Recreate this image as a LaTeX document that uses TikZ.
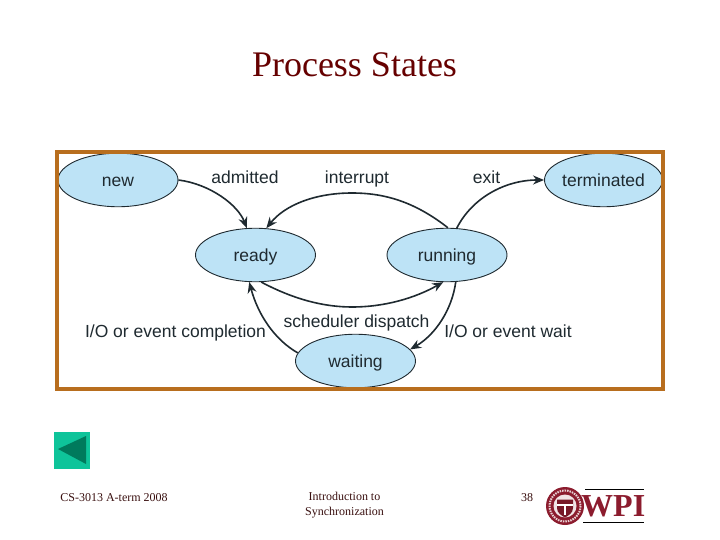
\documentclass[tikz,border=0pt]{standalone}
\usepackage{fontspec}
\setmainfont{Liberation Serif}
\newfontfamily\arialf{Liberation Sans}
\usetikzlibrary{shapes.geometric,arrows.meta}
\definecolor{framec}{HTML}{B86E1E}
\definecolor{statec}{HTML}{BDE3F6}
\definecolor{inkc}{HTML}{1F2A30}
\definecolor{titlec}{HTML}{660000}
\definecolor{footc}{HTML}{3A1010}
\definecolor{btnc}{HTML}{0EC49A}
\definecolor{btnd}{HTML}{007A5C}
\definecolor{wpic}{HTML}{8C1C2E}
\tikzset{
  state/.style={ellipse,draw=inkc,line width=0.9pt,fill=statec,inner sep=0pt,
    minimum width=#1,minimum height=53.5pt,text=inkc,text height=13pt,text depth=0.5pt,font=\arialf\fontsize{17.5}{17.5}\selectfont},
  state/.default=120pt,
  lbl/.style={inner sep=0pt,text=inkc,text height=13pt,text depth=0.5pt,font=\arialf\fontsize{17.5}{17.5}\selectfont},
  conn/.style={line width=1.6pt,draw=inkc,-{Stealth[length=11pt,width=9pt]}},
  foot/.style={inner sep=0pt,text=footc,font=\fontsize{12}{15}\selectfont,align=center}
}
\begin{document}
\begin{tikzpicture}[x=1pt,y=-1pt]
\useasboundingbox[fill=white] (0,0) rectangle (720,540);
\node[inner sep=0pt,text=titlec,font=\fontsize{36}{36}\selectfont] (title) at (354.5,64.5) {Process States};
\node[state] (new) at (118,180) {new};
\node[state] (ready) at (255.5,255) {ready};
\node[state] (running) at (447,255) {running};
\node[state=118pt] (terminated) at (603.5,180) {terminated};
\node[state] (waiting) at (355.5,361) {waiting};
\draw[framec,line width=4pt] (57,152) rectangle (663,389);
\draw[conn] (new.east) .. controls (210,184) and (238,205) .. (ready.108);
\draw[conn] (running.88) .. controls (415,202) and (385,193) .. (352,193) .. controls (315,193) and (285,205) .. (ready.68);
\draw[conn] (running.70) .. controls (472,198) and (505,180) .. (terminated.west);
\draw[conn] (ready.-78) .. controls (295,300) and (325,307) .. (352,307) .. controls (385,307) and (415,298) .. (running.-98);
\draw[conn] (waiting.172) .. controls (275,340) and (258,315) .. (ready.-103);
\draw[conn] (running.-72) .. controls (452,310) and (435,335) .. (waiting.12);
\node[lbl] (ladm) at (245,177) {admitted};
\node[lbl] (lint) at (357,177) {interrupt};
\node[lbl] (lexit) at (486.5,177) {exit};
\node[lbl] (lcomp) at (175.5,331) {I/O or event completion};
\node[lbl] (lsch) at (356.5,321) {scheduler dispatch};
\node[lbl] (lwait) at (508,331) {I/O or event wait};
\fill[btnc] (54,432) rectangle (90,469);
\fill[btnd] (58,449) -- (86,436) -- (86,464) -- cycle;
\node[foot] (f1) at (114,498) {CS-3013 A-term 2008};
\node[foot] (f2) at (344.5,505.5) {Introduction to\\Synchronization};
\node[foot] (f3) at (527,498) {38};
\fill[wpic] (565,506) circle (19);
\draw[white!80!wpic,line width=2pt,dash pattern=on 1.5pt off 1pt] (565,506) circle (15.5);
\fill[wpic] (565,506) circle (13.5);
\fill[white!88!wpic] (565,506) circle (11.5);
\fill[wpic!85!black] (557,499.5) -- (573,499.5) -- (573,508) .. controls (573,513) and (568.5,515.5) .. (565,517.5) .. controls (561.5,515.5) and (557,513) .. (557,508) -- cycle;
\fill[white] (557,503.5) rectangle (573,505.5);
\fill[white] (563.8,505.5) rectangle (566.2,515);
\draw[black,line width=0.8pt] (585,489) -- (644,489);
\draw[black,line width=0.8pt] (583,522) -- (644,522);
\node[inner sep=0pt,anchor=west,text=wpic,font=\bfseries\fontsize{32}{32}\selectfont] (wpi) at (581,506) {WPI};
\end{tikzpicture}
\end{document}
